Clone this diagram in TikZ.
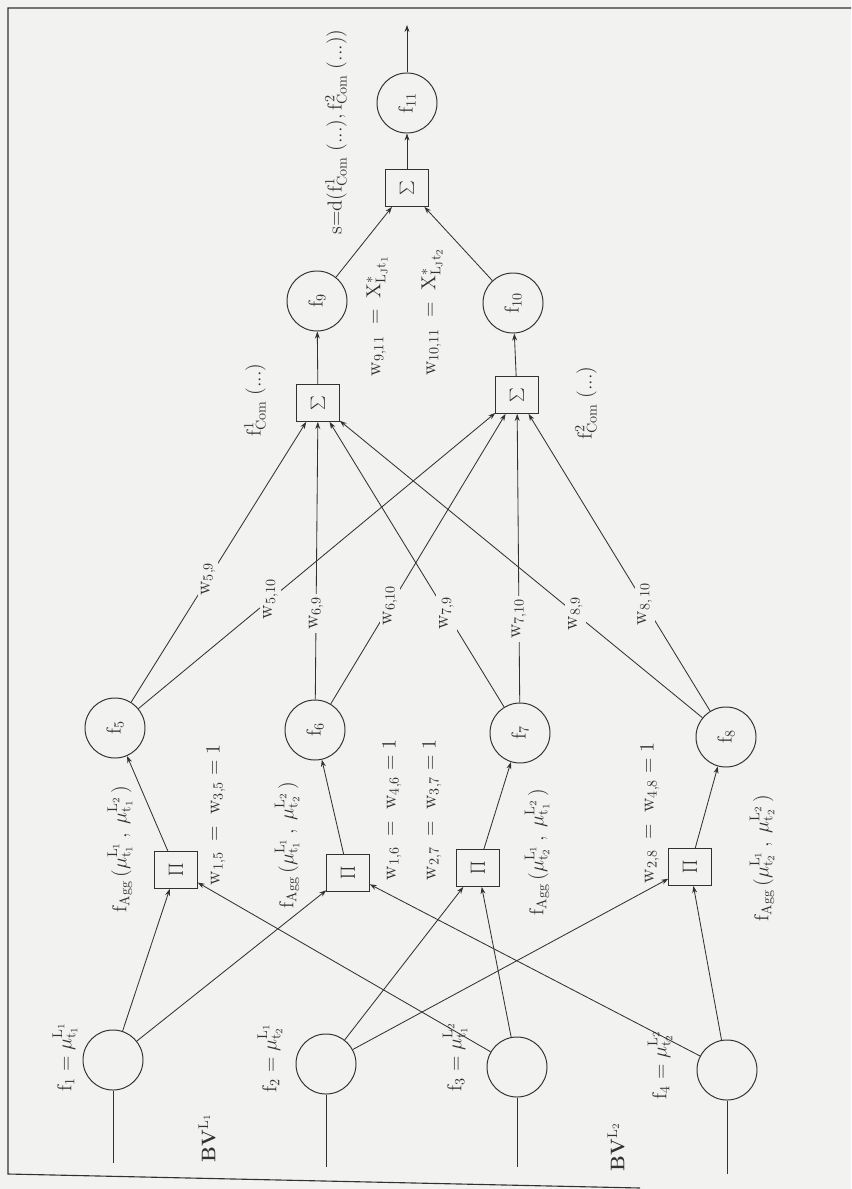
\documentclass[tikz,border=0pt]{standalone}
\usepackage{tikz}
\usetikzlibrary{arrows.meta}

\definecolor{papir}{RGB}{242,242,240}
\definecolor{tinta}{RGB}{50,50,50}

\begin{document}
\begin{tikzpicture}[
    x=0.025cm, y=-0.025cm,
    % Feliratok: elforgatva, alulrol felfele olvashato
    felirat/.style={rotate=90, text=tinta, inner sep=1pt, font=\fontsize{14}{16}\selectfont},
    % Neuronok (korok)
    neuron/.style={felirat, circle, draw=tinta, line width=0.7pt, minimum size=1.5cm, inner sep=0pt},
    % Szorzat es osszeg dobozok
    doboz/.style={felirat, rectangle, draw=tinta, line width=0.7pt, minimum width=0.92cm, minimum height=1.06cm, inner sep=0pt},
    % Sulyok a vonalak megszakitasaban
    suly/.style={felirat, fill=papir, inner sep=2pt},
    vonal/.style={tinta, line width=0.6pt},
    nyil/.style={vonal, -{Stealth[length=5pt, width=3.5pt]}}
]

    % Hatter es keret
    \fill[papir] (0,0) rectangle (851,1189);
    \useasboundingbox (0,0) rectangle (851,1189);
    \draw[vonal, line width=0.8pt] (851,8) -- (8,8) -- (8,1174) -- (640,1188);

    % Bemeneti neuronok
    \node[neuron] (F1) at (113,1060) {};
    \node[neuron] (F2) at (326,1064) {};
    \node[neuron] (F3) at (517,1067) {};
    \node[neuron] (F4) at (727,1070) {};

    % Bemeneti vonalak also vegpontjai
    \coordinate (B1) at (113,1163);
    \coordinate (B2) at (326,1167);
    \coordinate (B3) at (517,1167);
    \coordinate (B4) at (727,1174);

    % Szorzat (Pi) dobozok
    \node[doboz] (P1) at (176,870) {\fontsize{14}{16}\selectfont$\prod$};
    \node[doboz] (P2) at (348,873) {\fontsize{14}{16}\selectfont$\prod$};
    \node[doboz] (P3) at (478,868) {\fontsize{14}{16}\selectfont$\prod$};
    \node[doboz] (P4) at (690,867) {\fontsize{14}{16}\selectfont$\prod$};

    % Masodik reteg neuronjai
    \node[neuron] (F5) at (115,728) {$\mathrm{f_5}$};
    \node[neuron] (F6) at (315,730) {$\mathrm{f_6}$};
    \node[neuron] (F7) at (520,733) {$\mathrm{f_7}$};
    \node[neuron] (F8) at (726,737) {$\mathrm{f_8}$};

    % Osszeg (Sigma) dobozok es a harmadik reteg
    \node[doboz] (S1) at (318,403) {\fontsize{18}{20}\selectfont$\sum$};
    \node[doboz] (S2) at (517,395) {\fontsize{18}{20}\selectfont$\sum$};
    \node[neuron] (F9) at (317,301) {$\mathrm{f_9}$};
    \node[neuron] (F10) at (513,303) {$\mathrm{f_{10}}$};

    % Kimeneti resz
    \node[doboz] (S3) at (407,188) {\fontsize{18}{20}\selectfont$\sum$};
    \node[neuron] (F11) at (407,103) {$\mathrm{f_{11}}$};
    \coordinate (Ki) at (407,25);

    % Bemenetek
    \draw[vonal] (F1) -- (B1);
    \draw[vonal] (F2) -- (B2);
    \draw[vonal] (F3) -- (B3);
    \draw[vonal] (F4) -- (B4);

    % Bemenet -> szorzat
    \draw[nyil] (F1) -- (P1);
    \draw[nyil] (F1) -- (P2);
    \draw[nyil] (F2) -- (P3);
    \draw[nyil] (F2) -- (P4);
    \draw[nyil] (F3) -- (P1);
    \draw[nyil] (F3) -- (P3);
    \draw[nyil] (F4) -- (P2);
    \draw[nyil] (F4) -- (P4);

    % Szorzat -> masodik reteg
    \draw[nyil] (P1) -- (F5);
    \draw[nyil] (P2) -- (F6);
    \draw[nyil] (P3) -- (F7);
    \draw[nyil] (P4) -- (F8);

    % Masodik reteg -> osszeg, sulyokkal
    \draw[nyil] (F5) -- node[suly, pos=0.44] (w59) {$\mathrm{w_{5,9}}$} (S1);
    \draw[nyil] (F5) -- node[suly, pos=0.37] (w510) {$\mathrm{w_{5,10}}$} (S2);
    \draw[nyil] (F6) -- node[suly, pos=0.31] (w69) {$\mathrm{w_{6,9}}$} (S1);
    \draw[nyil] (F6) -- node[suly, pos=0.34] (w610) {$\mathrm{w_{6,10}}$} (S2);
    \draw[nyil] (F7) -- node[suly, pos=0.33] (w79) {$\mathrm{w_{7,9}}$} (S1);
    \draw[nyil] (F7) -- node[suly, pos=0.29] (w710) {$\mathrm{w_{7,10}}$} (S2);
    \draw[nyil] (F8) -- node[suly, pos=0.35] (w89) {$\mathrm{w_{8,9}}$} (S1);
    \draw[nyil] (F8) -- node[suly, pos=0.36] (w810) {$\mathrm{w_{8,\,10}}$} (S2);

    % Osszeg -> harmadik reteg -> kimenet
    \draw[nyil] (S1) -- (F9);
    \draw[nyil] (S2) -- (F10);
    \draw[nyil] (F9) -- (S3);
    \draw[nyil] (F10) -- (S3);
    \draw[nyil] (S3) -- (F11);
    \draw[nyil] (F11) -- (Ki);

    % Feliratok a bemeneteknel
    \node[felirat] (lf1) at (65,1057) {$\mathrm{f_1 = \mu^{L_1}_{t_1}}$};
    \node[felirat] (lf2) at (270,1058) {$\mathrm{f_2 = \mu^{L_1}_{t_2}}$};
    \node[felirat] (lf3) at (455,1057) {$\mathrm{f_3 = \mu^{L_2}_{t_1}}$};
    \node[felirat] (lf4) at (660,1065) {$\mathrm{f_4 = \mu^{L_2}_{t_2}}$};
    \node[felirat] (bv1) at (207,1138) {\textbf{BV}$^{\mathrm{L_1}}$};
    \node[felirat] (bv2) at (616,1147) {\textbf{BV}$^{\mathrm{L_2}}$};

    % Aggregacios feliratok
    \node[felirat] (agg1) at (120,849) {$\mathrm{f_{Agg}\,(\mu^{L_1}_{t_1}\,,\; \mu^{L_2}_{t_1}\,)}$};
    \node[felirat] (agg2) at (287,845) {$\mathrm{f_{Agg}\,(\mu^{L_1}_{t_1}\,,\; \mu^{L_2}_{t_2}\,)}$};
    \node[felirat] (agg3) at (537,852) {$\mathrm{f_{Agg}\,(\mu^{L_1}_{t_2}\,,\; \mu^{L_2}_{t_1}\,)}$};
    \node[felirat] (agg4) at (762,858) {$\mathrm{f_{Agg}\,(\mu^{L_1}_{t_2}\,,\; \mu^{L_2}_{t_2}\,)}$};

    % Rogzitett sulyok
    \node[felirat] (ws5) at (216,815) {$\mathrm{w_{1,5} \;=\; w_{3,5} = 1}$};
    \node[felirat] (ws6) at (392,810) {$\mathrm{w_{1,6} \;=\; w_{4,6} = 1}$};
    \node[felirat] (ws7) at (432,810) {$\mathrm{w_{2,7} \;=\; w_{3,7} = 1}$};
    \node[felirat] (ws8) at (650,813) {$\mathrm{w_{2,8} \;=\; w_{4,8} = 1}$};

    % Kombinacios feliratok
    \node[felirat] (com1) at (255,400) {$\mathrm{f^1_{Com}\;(...)}$};
    \node[felirat] (com2) at (586,403) {$\mathrm{f^2_{Com}\;(...)}$};
    \node[felirat] (w911) at (377,316) {$\mathrm{w_{9,11} \;=\; X^{*}_{L_J t_1}}$};
    \node[felirat] (w1011) at (432,312) {$\mathrm{w_{10,11} \;=\; X^{*}_{L_J t_2}}$};
    \node[felirat] (sd) at (336,132) {$\mathrm{s{=}d(f^1_{Com}\;(...), f^2_{Com}\;(...))}$};
\end{tikzpicture}
\end{document}
